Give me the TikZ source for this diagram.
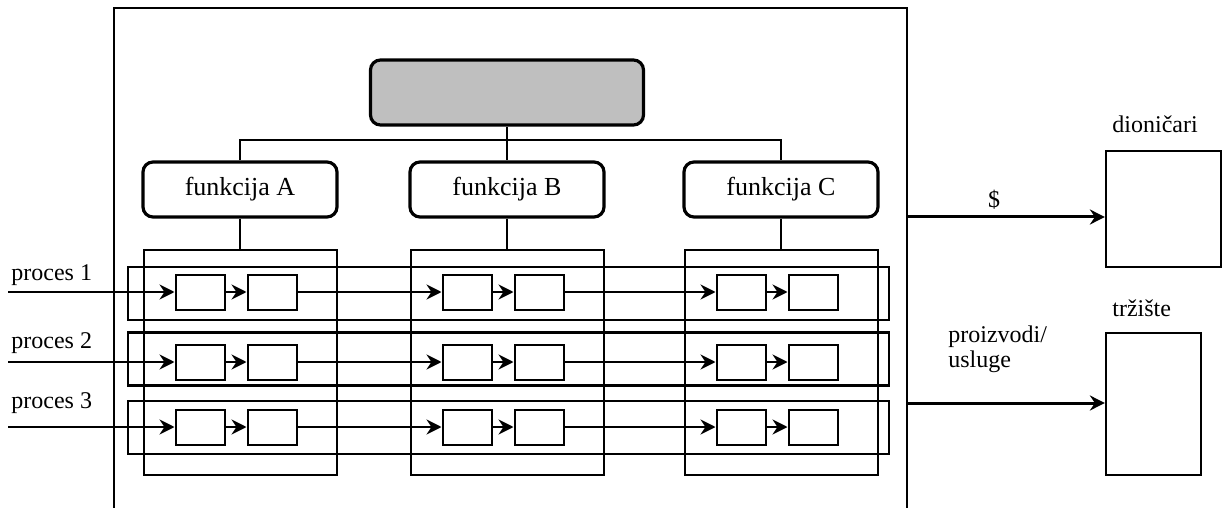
\documentclass[tikz,border=0pt]{standalone}
\usepackage{fontspec}
\setmainfont{Liberation Serif}
\usetikzlibrary{arrows.meta}
\begin{document}
\begin{tikzpicture}[x=0.5pt,y=-0.5pt]
\tikzset{
frame line/.style={line width=1.25pt},
top node/.style={draw,rounded corners=5pt,line width=1.6pt,fill=black!25,minimum width=136.5pt,minimum height=32.5pt},
func node/.style={draw,rounded corners=5pt,line width=1.6pt,minimum width=97pt,minimum height=27.5pt,font=\fontsize{13}{15}\selectfont},
column node/.style={draw,line width=1pt,minimum width=96.5pt,minimum height=112.5pt},
row node/.style={draw,line width=1.1pt,minimum width=380.5pt,minimum height=26.5pt},
cell node/.style={draw,line width=1pt,minimum width=24.5pt,minimum height=17.5pt},
party node/.style={draw,line width=1.1pt},
text node/.style={inner sep=0pt,font=\fontsize{12}{12.5}\selectfont},
link/.style={line width=1pt},
flow/.style={line width=1.1pt,-{Stealth[length=7.5pt,width=7.5pt,inset=2.5pt]}},
out flow/.style={line width=1.5pt,-{Stealth[length=7.5pt,width=7.5pt,inset=2.5pt]}}
}
\useasboundingbox (0,0) rectangle (1222,508);

% company
\draw[frame line] (114,508) -- (114,8) -- (907,8) -- (907,508);

\node(top)[top node] at (507,92.5) {};
\node(fA)[func node] at (240,189.5) {funkcija A};
\node(fB)[func node] at (507,189.5) {funkcija B};
\node(fC)[func node] at (781,189.5) {funkcija C};

\coordinate (bus) at (507,140);
\draw[link] (top) -- (bus);
\draw[link] (fA.north) |- (bus) -| (fC.north);
\draw[link] (bus) -- (fB);

\node(cA)[column node] at (240,362.5) {};
\node(cB)[column node] at (507,362.5) {};
\node(cC)[column node] at (781,362.5) {};
\draw[link] (fA) -- (cA);
\draw[link] (fB) -- (cB);
\draw[link] (fC) -- (cC);

% processes
\node(r1)[row node] at (508.5,293.5) {};
\node(r2)[row node] at (508.5,359) {};
\node(r3)[row node] at (508.5,427.5) {};

\foreach \r/\y/\b in {1/292/280,2/362/348,3/427/408}{
  \foreach \c/\x in {A/240,B/507,C/781}{
    \node(\c\r1)[cell node] at (\x-40,\y) {};
    \node(\c\r2)[cell node] at (\x+32,\y) {};
    \draw[flow] (\c\r1) -- (\c\r2);
  }
  \coordinate (in\r) at (8,\y);
  \node(p\r)[text node,anchor=base west] at (11,\b) {proces \r};
  \draw[flow] (in\r) -- (A\r1);
  \draw[flow] (A\r2) -- (B\r1);
  \draw[flow] (B\r2) -- (C\r1);
}

% outside
\node(dio)[party node,minimum width=57.5pt,minimum height=58pt] at (1163.5,209) {};
\node(trz)[party node,minimum width=47.5pt,minimum height=71pt] at (1153.5,404) {};
\node(dioL)[text node,anchor=base west] at (1112,133) {dioničari};
\node(trzL)[text node,anchor=base west] at (1112,316) {tržište};

\coordinate (o1) at (907,217);
\coordinate (o2) at (907,403);
\draw[out flow] (o1) -- (o1 -| dio.west);
\draw[out flow] (o2) -- (o2 -| trz.west);
\node(usd)[text node,anchor=base] at (994,207) {\$};
\node(prod)[text node,anchor=base west,align=left] at (948,367) {proizvodi/\\usluge};
\end{tikzpicture}
\end{document}
